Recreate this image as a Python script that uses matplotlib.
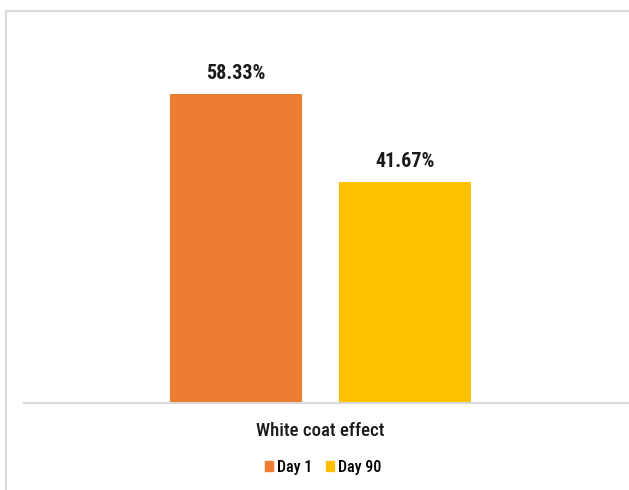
import numpy as np
import matplotlib.pyplot as plt
from matplotlib.patches import Rectangle

category = 'White coat effect'
series = ['Day 1', 'Day 90']
values = [58.33, 41.67]
colors = ['#ED7D31', '#FFC000']

plt.rcParams['font.family'] = ['Roboto Condensed', 'DejaVu Sans']

fig = plt.figure(figsize=(6.29, 4.90), dpi=100)
ax = fig.add_axes([24/629, 1-403/490, 605/629, 371/490])

# bar width 1 unit = 132 px; bars 169 px apart
x = (np.arange(len(values)) - 0.5) * 1.28
bars = ax.bar(x, values, width=1.0, color=colors)
for b, v in zip(bars, values):
    ax.annotate(f'{v:.2f}%', (b.get_x() + b.get_width()/2, v),
                xytext=(0, 8), textcoords='offset points',
                ha='center', va='bottom', fontsize=14.5, fontweight='bold',
                color='#1a1a1a')

ax.set_xlim(-2.246, 2.337)
ax.set_ylim(0, 70)
ax.set_yticks([])
ax.set_xticks([0])
ax.set_xticklabels([category], fontsize=13.5, fontweight='medium', color='#1a1a1a')
ax.tick_params(axis='x', length=0, pad=14)
for s in ['top', 'left', 'right']:
    ax.spines[s].set_visible(False)
ax.spines['bottom'].set_color('#D9D9D9')
ax.spines['bottom'].set_linewidth(1.5)

handles = [Rectangle((0, 0), 1, 1, color=c) for c in colors]
fig.legend(handles, series, loc='center', bbox_to_anchor=(323/629, 1-467/490),
           ncol=2, frameon=False,
           prop={'weight': 'medium', 'size': 11.5},
           handlelength=0.5, handleheight=0.55,
           handletextpad=0.25, columnspacing=0.9)

# outer chart border, cut off on the right and bottom
fig.patches.append(Rectangle((6.5/629, -0.1), 2, (490-11.5)/490 + 0.1,
                             transform=fig.transFigure, fill=False,
                             edgecolor='#D9D9D9', linewidth=1.5))

fig.savefig('out.png', dpi=100)
